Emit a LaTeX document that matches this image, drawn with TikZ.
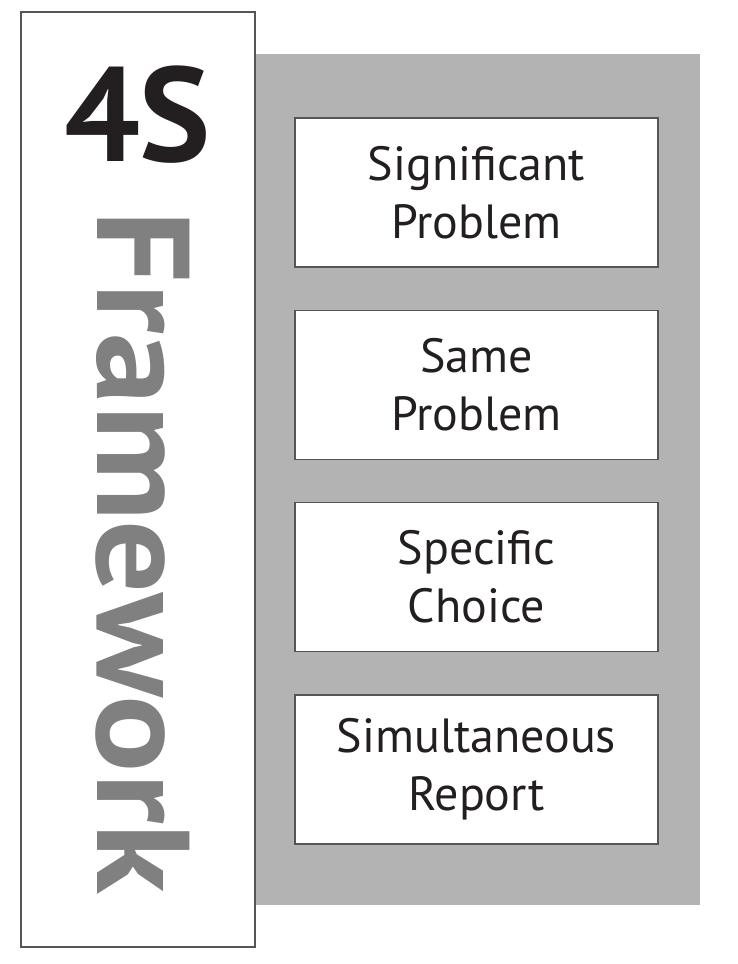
\documentclass[tikz,border=0pt]{standalone}
\usepackage{fontspec}
\setmainfont{PT Sans}
\usetikzlibrary{positioning}
\definecolor{ink}{HTML}{231F20}
\definecolor{panelgray}{HTML}{B3B3B3}
\definecolor{titlegray}{HTML}{808080}
\definecolor{framegray}{HTML}{555555}
\begin{document}
\begin{tikzpicture}[x=1pt, y=-1pt]

% Page size, same as the drawing
\useasboundingbox (0,0) rectangle (738,964);

% Define styles for the boxes and the titles
\tikzstyle{stepbox} = [rectangle, draw=framegray, line width=1.3pt, fill=white,
	minimum width=363pt, minimum height=149pt, inner sep=0pt,
	text=ink, align=center, font=\fontsize{48}{58}\selectfont]
\tikzstyle{bigtitle} = [inner sep=0pt, text=ink, font=\fontsize{134}{134}\selectfont\bfseries]
\tikzstyle{sidetitle} = [inner sep=0pt, text=titlegray, rotate=-90, font=\fontsize{132}{132}\selectfont\bfseries]

% Gray panel behind the steps
\fill[panelgray] (254,54) rectangle (700,905);

% White strip with the name
\draw[framegray, line width=1.2pt, fill=white] (21,12) rectangle (255,947);
\node[bigtitle, anchor=base] (fours) at (137.5,161) {4S};
\node[sidetitle, anchor=base west] (framework) at (97,210) {\scalebox{1.09}[1]{Framework}};

% The four steps
\node[stepbox] (signif) at (476.5,192.5) {Significant\\Problem};
\node[stepbox, below=42pt of signif] (same) {Same\\Problem};
\node[stepbox, below=42pt of same] (specific) {Specific\\Choice};
\node[stepbox, below=42pt of specific] (simult) {Simultaneous\\Report};

\end{tikzpicture}
\end{document}
